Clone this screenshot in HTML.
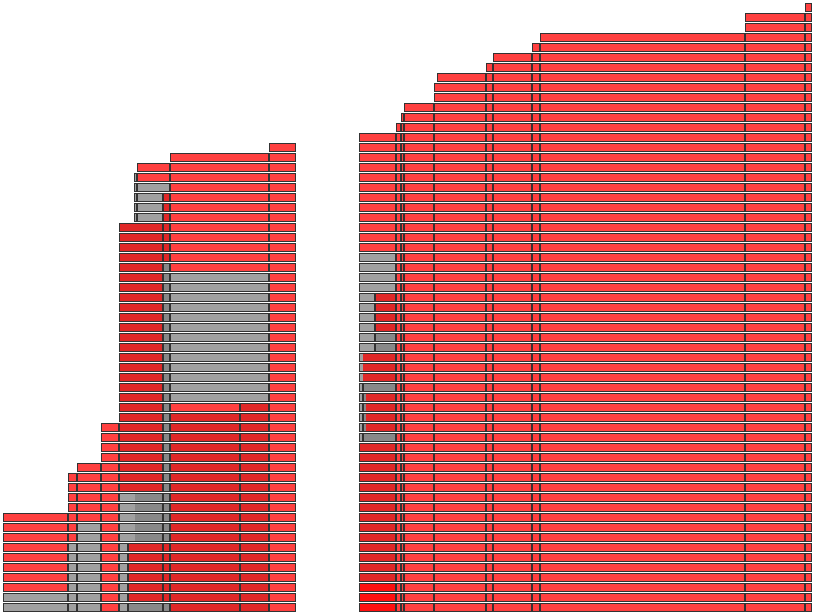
<!DOCTYPE html>
<html><head><meta charset="utf-8"><style>
html,body{margin:0;padding:0;background:#fff;width:814px;height:614px;overflow:hidden}
svg{display:block}
</style></head><body>
<svg id="chart" width="814" height="614" xmlns="http://www.w3.org/2000/svg"></svg>
<script>
// Row indices (top = 0) at which each group's bars start, and the x where they start
const leftRows = [14,15,16,17,18,19,20,21,22,23,24,25,26,27,28,29,30,31,32,33,34,35,36,37,38,39,40,41,42,43,44,45,46,47,48,49,50,51,52,53,54,55,56,57,58,59,60];
const leftStart = [269,170,137,134,134,134,134,134,119,119,119,119,119,119,119,119,119,119,119,119,119,119,119,119,119,119,119,119,101,101,101,101,77,68,68,68,68,3,3,3,3,3,3,3,3,3,3];
// boundaries: [x,rowFrom,rowTo]
const leftBounds = [[68,47,60],[77,46,60],[101,42,60],[119,22,60],[128,54,60],[137,17,21],[163,19,60],[170,15,60],[240,40,60],[269,14,60],[296,0,60]];
const rightRows = [0,1,2,3,4,5,6,7,8,9,10,11,12,13,14,15,16,17,18,19,20,21,22,23,24,25,26,27,28,29,30,31,32,33,34,35,36,37,38,39,40,41,42,43,44,45,46,47,48,49,50,51,52,53,54,55,56,57,58,59,60];
const rightStart = [805,745,745,540,532,493,486,437,434,434,404,401,396,359,359,359,359,359,359,359,359,359,359,359,359,359,359,359,359,359,359,359,359,359,359,359,359,359,359,359,359,359,359,359,359,359,359,359,359,359,359,359,359,359,359,359,359,359,359,359,359];
const rightBounds = [[363,38,43],[375,29,34],[396,12,60],[401,11,60],[404,10,60],[434,8,60],[486,6,60],[493,5,60],[532,4,60],[540,3,60],[745,1,60],[805,0,60],[812,0,60]];
// overlays: [rowFrom,rowTo,x0,x1,color]
const overlays = [
 [18,18,137,170,'#a0a0a0'],[19,21,137,163,'#a0a0a0'],[17,21,134,137,'#a0a0a0'],
 [22,48,119,163,'#e02828'],[19,25,163,170,'#e02828'],[26,53,163,170,'#888888'],
 [27,39,170,269,'#a0a0a0'],
 [40,40,240,269,'#e02828'],[41,60,170,269,'#e02828'],
 [49,53,119,135,'#a0a0a0'],[49,53,135,163,'#888888'],
 [54,59,128,170,'#e02828'],
 [52,60,77,101,'#a0a0a0'],[54,60,68,77,'#a0a0a0'],[59,60,3,68,'#a0a0a0'],
 [54,60,119,128,'#a0a0a0'],[60,60,128,170,'#888888'],
 [25,28,359,396,'#a0a0a0'],
 [29,34,359,375,'#a0a0a0'],[29,32,375,396,'#e02828'],[33,34,375,396,'#888888'],
 [35,37,359,363,'#a0a0a0'],[35,37,363,396,'#e02828'],
 [38,38,359,363,'#a0a0a0'],[38,38,363,396,'#888888'],
 [39,42,359,363,'#a0a0a0'],[39,42,363,366,'#888888'],[39,42,366,396,'#e02828'],
 [43,43,359,363,'#a0a0a0'],[43,43,363,396,'#888888'],
 [44,57,359,396,'#e02828'],[58,60,359,396,'#ff1010']
];
const svg=document.getElementById('chart');
const NS='http://www.w3.org/2000/svg';
function rowY(k){return 3+10*k;}
const cells=[];
function group(rows,starts,bounds,name){
  rows.forEach((k,i)=>{
    const s=starts[i];
    const xs=bounds.filter(b=>b[0]>s && k>=b[1] && k<=b[2]).map(b=>b[0]);
    const b=[s].concat(xs);
    for(let j=0;j<b.length-1;j++) cells.push([b[j],rowY(k),b[j+1]-b[j],name+'-row'+k]);
  });
}
group(leftRows,leftStart,leftBounds,'left');
group(rightRows,rightStart,rightBounds,'right');
cells.forEach(c=>{
  const r=document.createElementNS(NS,'rect');
  r.setAttribute('x',c[0]);r.setAttribute('y',c[1]);r.setAttribute('width',c[2]);r.setAttribute('height',9);
  r.setAttribute('fill','#ff4040');
  
  
  svg.appendChild(r);
});
overlays.forEach(o=>{
  for(let k=o[0];k<=o[1];k++){
    const r=document.createElementNS(NS,'rect');
    r.setAttribute('x',o[2]);r.setAttribute('y',rowY(k));r.setAttribute('width',o[3]-o[2]);r.setAttribute('height',9);
    r.setAttribute('fill',o[4]);
    
    
    svg.appendChild(r);
  }
});
cells.forEach(c=>{
  const r=document.createElementNS(NS,'rect');
  r.setAttribute('x',c[0]+0.5);r.setAttribute('y',c[1]+0.5);r.setAttribute('width',c[2]-1);r.setAttribute('height',8);
  r.setAttribute('fill','none');r.setAttribute('stroke','#333');r.setAttribute('stroke-width','1');
  
  
  svg.appendChild(r);
});
</script>
</body></html>
